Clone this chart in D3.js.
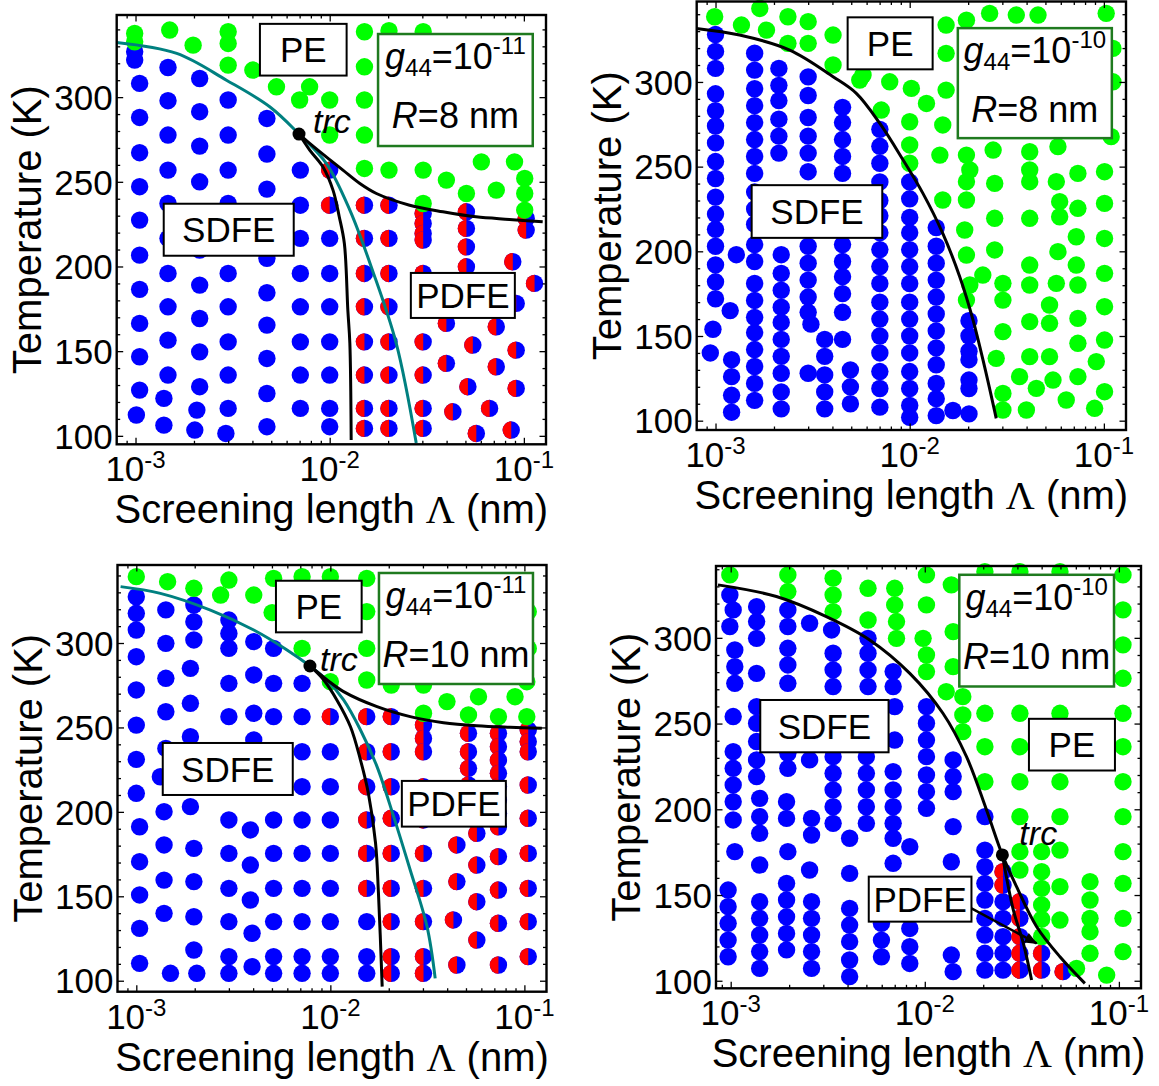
<!DOCTYPE html>
<html>
<head>
<meta charset="utf-8">
<script src="https://cdn.jsdelivr.net/npm/d3@7"></script>
<style>
  body { margin: 0; background: #fff; }
  svg { display: block; }
</style>
</head>
<body>
<svg id="fig" width="1159" height="1086"></svg>
<script>
// ---------- Phase-diagram data: screening length Λ (nm) vs temperature T (K) ----------
// Dots are grouped as [Λ, [T, T, ...]] columns.

// Panel 1: g44 = 1e-11, R = 8 nm
const p1Blue = [
  [0.99e-3, [326.8, 321.9]],
  [1.05e-3, [308.1, 288.0, 267.2, 247.1, 227.4, 206.7, 186.5, 166.4, 146.7, 127.0]],
  [1.01e-3, [112.3]],
  [1.47e-3, [317.5, 297.9, 277.6, 256.9, 237.2, 216.6, 195.9, 176.2, 156.5, 135.9]],
  [1.40e-3, [122.1, 106.3]],
  [2.14e-3, [311.0, 291.4, 271.1, 250.0, 229.4, 209.7, 189.0, 169.3, 149.6, 129.0]],
  [2.07e-3, [115.2]],
  [2.02e-3, [103.4]],
  [3.0e-3, [298.3, 277.6, 256.9, 237.2, 215.6, 195.9, 176.2, 155.5, 135.9, 116.2]],
  [2.92e-3, [101.4]],
  [4.75e-3, [287.4, 266.4, 245.7, 225.4, 204.8, 184.5, 165.4, 145.7, 125.0, 105.4]],
  [7.06e-3, [256.9, 236.2, 216.6, 195.9, 176.2, 155.5, 135.9, 116.2]],
  [1.0e-2, [216.6, 195.9, 176.2, 155.5, 135.9, 116.2, 105.4]]
];
const p1Green = [
  [0.99e-3, [337.6, 332.7]], [1.50e-3, [339.6]], [1.98e-3, [330.7]],
  [3.0e-3, [338.6, 331.7, 318.9]], [4.02e-3, [316.0]], [5.32e-3, [306.1]],
  [7.88e-3, [306.1]], [7.0e-3, [298.3]], [1.0e-2, [298.3, 277.6]],
  [1.51e-2, [338.6, 317.9, 298.3, 277.6, 257.9]], [2.02e-2, [339.2, 256.9]],
  [3.03e-2, [338.6, 256.9, 237.2]], [3.99e-2, [251.0]], [5.06e-2, [243.1]],
  [6.04e-2, [261.8]], [7.21e-2, [245.1]], [8.95e-2, [261.8]], [0.101, [252.0, 243.1, 233.3]]
];
const p1Half = [
  [1.0e-2, [256.9, 236.2]],
  [1.51e-2, [236.2, 216.6, 195.9, 176.2, 155.5, 135.9, 116.2, 104.4]],
  [2.02e-2, [236.2, 216.6, 195.9, 176.2, 155.5, 135.9, 116.2, 104.4]],
  [3.03e-2, [231.3, 225.4, 219.5, 215.6, 195.9, 176.2, 155.5, 135.9, 116.2, 104.4]],
  [5.06e-2, [232.3, 222.5, 211.6, 199.8]],
  [3.99e-2, [166.4, 142.8]], [5.46e-2, [153.6]], [5.15e-2, [129.0]], [4.31e-2, [114.2]],
  [5.69e-2, [101.4]], [7.21e-2, [164.4, 140.8]], [6.66e-2, [116.2]], [8.77e-2, [202.8]],
  [9.13e-2, [178.2, 150.6, 128.0]], [8.61e-2, [103.4]], [0.1135, [190.0]], [0.1028, [228.4, 221.5]]
];
const p1Teal = [[8.0e-4, 332.3], [1.63e-3, 325.8], [2.94e-3, 310.0], [4.91e-3, 294.3], [6.95e-3, 278.2],
  [9.6e-3, 260.9], [1.27e-2, 233.3], [1.66e-2, 197.8], [2.2e-2, 154.7], [2.79e-2, 95.7]];
const p1LineA = [[6.95e-3, 278.2], [7.89e-3, 268.7], [9.22e-3, 258.9], [1.04e-2, 245.1], [1.12e-2, 229.4],
  [1.19e-2, 213.6], [1.24e-2, 174.2], [1.27e-2, 154.6], [1.29e-2, 97.5]];
const p1LineB = [[6.95e-3, 278.2], [7.89e-3, 272.7], [9.6e-3, 264.7], [1.17e-2, 256.9], [1.43e-2, 249.0],
  [1.74e-2, 243.1], [2.58e-2, 236.2], [3.83e-2, 232.3], [5.67e-2, 229.3], [8.43e-2, 227.8], [0.125, 226.4]];
const p1Trc = [6.95e-3, 278.2];

// Panel 2: g44 = 1e-10, R = 8 nm
const p2Blue = [
  [1.0e-3, [328, 318, 308, 293, 283, 274, 264, 253, 243, 232, 222, 213, 203, 192, 182, 172]],
  [0.97e-3, [154]], [0.94e-3, [140]],
  [1.28e-3, [198]], [1.19e-3, [165]], [1.21e-3, [136, 126, 115, 105]],
  [1.59e-3, [317, 307, 296, 286, 276, 266, 256, 246, 235, 225, 216, 204, 194, 181, 171, 161, 152, 142, 132, 122, 112]],
  [2.12e-3, [308, 298, 289, 278, 268, 258]],
  [2.18e-3, [198, 187, 177, 167, 158, 148, 138, 128, 117, 107]],
  [3.0e-3, [303, 292, 279, 268, 258, 247, 203, 193, 183, 173, 164, 128]],
  [3.1e-3, [157]],
  [3.65e-3, [148, 138, 127, 117, 107]],
  [4.51e-3, [285, 276, 266, 256, 246, 204, 194, 185, 175, 164, 148]],
  [4.95e-3, [130, 120, 110]],
  [7.02e-3, [272, 262, 252, 241, 230, 221, 211, 201, 191, 181, 170, 160, 150, 140, 129, 119, 108]],
  [1.0e-2, [241, 231, 220, 211, 201, 191, 181, 170, 160, 150, 140, 129, 119, 109, 102]],
  [1.37e-2, [214, 203, 193, 183, 173, 163, 153, 143, 133, 122, 113, 103]],
  [1.67e-2, [106]],
  [2.02e-2, [159, 150, 141, 136, 124, 119, 104]]
];
const p2Green = [
  [0.99e-3, [338.5]], [1.36e-3, [333.6]], [1.69e-3, [343.4]], [1.83e-3, [330.6]],
  [2.36e-3, [338.5, 322.8]], [3.0e-3, [335.6, 322.8]], [4.03e-3, [327.7, 310.0]],
  [5.53e-3, [301.1]], [5.75e-3, [304.1]], [7.89e-3, [300.1]], [7.14e-3, [283.4]],
  [1.02e-2, [296.2]], [1.22e-2, [287.3]], [1.54e-2, [295.2, 316.9, 333.6]],
  [1.96e-2, [336.5, 256.8, 241.1, 230.3, 197.8, 171.2]], [2.58e-2, [340.5]], [3.54e-2, [339.5]],
  [4.58e-2, [339.5]], [0.1028, [340.5]], [0.1113, [319.8, 300.1]], [0.109, [267.7]],
  [1.0e-2, [276.5, 262.8, 252.0]], [1.43e-2, [256.8]], [1.48e-2, [274.6, 230.3]],
  [2.04e-2, [248.0, 180.1]], [2.74e-2, [240.1, 219.5, 200.8]], [1.92e-2, [212.6]],
  [2.38e-2, [186.0]], [3.02e-2, [181.1, 171.2, 152.6, 116.1, 106.3]],
  [4.15e-2, [258.8, 248.0, 241.1, 219.5, 191.9, 180.1, 158.5, 137.8]],
  [5.8e-2, [261.8, 199.8]], [5.69e-2, [241.1, 181.1]], [5.92e-2, [229.3, 220.4]],
  [7.35e-2, [246.0, 225.4, 180.1, 160.4, 145.7, 126.0]], [0.1008, [247.0, 228.3, 207.6, 187.0, 167.3, 147.6, 117.1]],
  [7.21e-2, [208.6, 191.9]], [5.25e-2, [168.3, 157.5, 137.8]], [2.79e-2, [136.8]],
  [9.14e-2, [134.9]], [3.68e-2, [126.0]], [4.49e-2, [119.1]], [5.47e-2, [124.0]],
  [6.4e-2, [112.2]], [8.96e-2, [107.3]], [3.99e-2, [106.3]], [2.69e-2, [259.8]]
];
const p2Line = [[7.97e-4, 331.6], [1.33e-3, 327.7], [2.41e-3, 318.8], [4.03e-3, 303.1], [5.31e-3, 293.3],
  [7.02e-3, 275.5], [9.25e-3, 253.9], [1.17e-2, 234.2], [1.48e-2, 210.6], [1.81e-2, 185.0],
  [2.12e-2, 159.4], [2.43e-2, 131.9], [2.79e-2, 101.4]];

// Panel 3: g44 = 1e-11, R = 10 nm
const p3Blue = [
  [1.0e-3, [327.4, 317.6, 307.7, 291.9, 272.2, 251.4, 231.1, 211.0]],
  [1.04e-3, [191.2, 170.5, 150.8, 131.0, 110.3]],
  [1.42e-3, [319.6, 299.8, 279.1, 259.3, 237.6]],
  [1.33e-3, [220.8]],
  [1.39e-3, [200.1, 180.4, 159.6, 139.9]],
  [1.50e-3, [104.4]],
  [1.98e-3, [322.5, 312.6, 301.8, 178.4, 158.7, 137.9, 118.2]],
  [1.9e-3, [285.0, 264.3, 244.5, 203.1]],
  [2.05e-3, [104.4]],
  [3.0e-3, [313.6, 305.7, 296.9, 276.1, 256.4, 195.2, 175.4, 154.7, 135.0, 114.3, 104.4]],
  [4.03e-3, [300.8, 281.1, 258.4, 242.6]],
  [3.87e-3, [189.3, 168.5, 147.8]],
  [3.95e-3, [128.1, 108.3]],
  [5.1e-3, [296.8, 276.1, 256.4, 195.2, 175.4, 154.7, 135.0, 114.3, 104.4]],
  [7.15e-3, [276.1, 256.4, 235.6, 214.9, 195.2, 175.4, 154.7, 135.0, 114.3, 104.4]],
  [1.0e-2, [235.6, 214.9, 195.2, 175.4, 154.7, 135.0, 114.3, 104.4]],
  [1.54e-2, [135.0, 114.3, 104.4]]
];
const p3Green = [
  [1.0e-3, [339.3]], [1.45e-3, [336.3]], [1.98e-3, [332.4]], [3.0e-3, [337.3]], [2.72e-3, [328.4]],
  [4.03e-3, [328.4]], [5.1e-3, [338.3]], [5.01e-3, [318.0]], [7.15e-3, [339.3, 296.8]],
  [1.0e-2, [339.3, 277.1]], [1.54e-2, [338.3, 318.6, 296.8, 278.1]], [2.06e-2, [275.1]],
  [3.02e-2, [275.1, 258.4]], [3.99e-2, [265.3]], [5.8e-2, [268.2]], [8.95e-2, [268.2]],
  [5.15e-2, [257.4]], [7.35e-2, [256.4]], [0.1029, [256.4, 277.1]], [0.1047, [318.6, 296.8]]
];
const p3Half = [
  [1.0e-2, [256.4]],
  [1.54e-2, [256.4, 235.6, 214.9, 195.2, 175.4, 154.7]],
  [2.06e-2, [256.4, 235.6, 214.9, 196.2, 175.4, 154.7, 135.0, 114.3, 104.4]],
  [3.02e-2, [251.4, 243.5, 235.6, 214.9, 195.2, 175.4, 154.7, 135.0, 114.3, 104.4]],
  [5.15e-2, [246.5, 235.6, 225.8, 215.9]],
  [5.69e-2, [187.3, 168.5, 146.8, 124.1]],
  [4.49e-2, [180.4, 158.7, 109.3]],
  [4.31e-2, [136.0]],
  [7.35e-2, [246.5, 238.6, 230.7, 222.8, 215.0, 207.0, 199.1, 191.2, 173.5, 153.7, 134.0, 109.3]],
  [0.1047, [248.5, 241.6, 235.6, 215.9, 196.2, 175.4, 154.7, 135.0, 114.3]]
];
const p3Teal = [[8.3e-4, 333.4], [1.33e-3, 329.4], [2.41e-3, 319.5], [4.03e-3, 307.7], [5.98e-3, 295.9],
  [7.85e-3, 286.4], [9.6e-3, 278.1], [1.17e-2, 266.3], [1.43e-2, 248.5], [1.74e-2, 226.8],
  [2.12e-2, 197.2], [2.58e-2, 165.6], [3.15e-2, 132.0], [3.47e-2, 101.4]];
const p3LineA = [[7.85e-3, 286.4], [9.25e-3, 278.1], [1.08e-2, 266.3], [1.27e-2, 250.4], [1.43e-2, 230.7],
  [1.57e-2, 211.0], [1.71e-2, 181.4], [1.77e-2, 151.7], [1.85e-2, 96.5]];
const p3LineB = [[7.85e-3, 286.4], [9.62e-3, 278.1], [1.17e-2, 271.2], [1.74e-2, 262.3], [2.58e-2, 256.4],
  [3.83e-2, 252.8], [5.69e-2, 251.0], [8.43e-2, 250.1], [0.123, 249.5]];
const p3Trc = [7.85e-3, 286.4];

// Panel 4: g44 = 1e-10, R = 10 nm
const p4Blue = [
  [0.99e-3, [325.0, 306.6]],
  [1.03e-3, [316.3, 254.1, 233.6, 223.9, 214.2, 204.4, 193.8]],
  [1.05e-3, [292.9, 283.2, 273.5, 175.3]],
  [0.97e-3, [152.9, 143.2, 133.5, 123.7, 114.0]],
  [1.36e-3, [318.2, 309.5, 299.7, 279.3, 259.9, 250.2, 239.5, 228.8, 219.1]],
  [1.41e-3, [206.4, 195.7, 186.0, 167.5, 146.1, 136.4, 126.7, 117.0, 107.2]],
  [1.97e-3, [316.3, 306.6, 293.9, 284.2, 273.5, 232.7, 223.9, 175.3]],
  [1.94e-3, [204.4, 194.7, 156.8, 147.1, 137.3, 127.6, 118.0]],
  [2.55e-3, [308.5, 228.8, 164.6]],
  [2.61e-3, [194.7, 185.0, 146.1, 136.4, 126.7, 117.0, 107.2]],
  [3.31e-3, [304.6]],
  [3.37e-3, [291.0, 281.3, 271.6, 230.7, 221.0, 211.3, 201.5, 191.8]],
  [4.1e-3, [183.1, 162.6, 142.2, 132.5, 122.8, 112.1, 102.4]],
  [5.1e-3, [299.7, 291.0, 281.3, 271.6]],
  [5.0e-3, [230.7, 221.0, 211.3, 201.5, 191.8]],
  [5.98e-3, [133.5, 123.7, 114.0]],
  [6.87e-3, [280.3, 271.6, 222.0, 211.3, 201.5, 191.8, 183.1, 168.5]],
  [7.0e-3, [259.9, 240.4]],
  [8.37e-3, [178.2, 130.5, 119.9, 110.1]],
  [1.02e-2, [259.9, 250.2, 240.4, 230.7, 220.0, 210.3, 200.6]],
  [1.40e-2, [228.8, 219.1, 210.3, 189.9, 105.3]],
  [1.37e-2, [169.4, 115.0]],
  [2.04e-2, [195.7, 176.2, 166.5, 156.8, 147.1, 136.4, 126.7, 116.0, 106.2]],
  [2.53e-2, [146.1, 136.4, 125.7, 116.0, 106.2]]
];
const p4Green = [
  [0.99e-3, [336.7]], [1.97e-3, [336.7, 327.0]], [3.37e-3, [334.8, 325.0, 315.3]],
  [5.1e-3, [328.9, 310.4]], [7.0e-3, [328.9, 319.2]], [7.15e-3, [309.5, 299.7]], [9.8e-3, [299.7]],
  [1.02e-2, [336.7, 319.2, 290.0, 280.3]], [1.37e-2, [330.9]], [1.40e-2, [303.6, 283.2]],
  [1.29e-2, [268.6]], [1.57e-2, [265.7, 255.0, 245.3]],
  [2.04e-2, [338.6, 256.0, 236.5, 216.1]],
  [3.09e-2, [338.6, 256.0, 236.5, 216.1, 195.7, 175.3, 164.6]],
  [4.97e-2, [338.6, 256.0, 216.1, 195.7, 176.2, 154.9, 135.4]],
  [4.0e-2, [175.3, 163.6, 153.9, 144.2, 135.9, 125.8]],
  [7.1e-2, [157.8, 147.1, 136.4, 128.6, 116.0]],
  [0.105, [336.7, 316.3, 295.9, 276.4, 256.0, 236.5, 216.1, 195.7, 175.3, 156.8, 136.4, 117.0]],
  [6.05e-2, [107.2]], [8.65e-2, [103.3]]
];
const p4Half = [
  [2.53e-2, [163.6, 155.8]],
  [3.09e-2, [146.1, 136.4, 125.7, 116.0, 106.2]],
  [4.0e-2, [116.0, 106.2]],
  [5.16e-2, [105.3]]
];
const p4LineA = [[8.6e-4, 330.9], [1.72e-3, 324.1], [3.11e-3, 312.4], [5.2e-3, 298.8], [8.37e-3, 279.3],
  [1.24e-2, 256.0], [1.64e-2, 230.7], [2.08e-2, 199.6], [2.51e-2, 173.4], [2.97e-2, 154.9],
  [3.77e-2, 131.5], [4.97e-2, 114.0], [6.68e-2, 98.5]];
const p4LineB = [[2.51e-2, 173.4], [2.86e-2, 141.2], [3.22e-2, 121.8], [3.55e-2, 100.4]];
const p4Trc = [2.51e-2, 173.4];
const p4Arrow = [[1.74e-2, 142.2], [3.77e-2, 121.8]];

// Axis ticks
const xMajor = [1e-3, 1e-2, 1e-1];
const xMajorExp = ['-3', '-2', '-1'];
const yMajor = [100, 150, 200, 250, 300];

// ---------- Styles ----------
const SANS = '"Liberation Sans", Arial, Helvetica, sans-serif';
const BLUE = '#0000ff', GREEN = '#00ff00', RED = '#ff0000', TEAL = '#008080', BOXGREEN = '#1f7a1f';
const DOT_R = 8.7;

// ---------- Panel layout ----------
const panels = [
  { l: 116.7, r: 546, t: 15, b: 444.3, xd: [8e-4, 0.13], yd: [95, 348.5],
    blue: p1Blue, green: p1Green, half: p1Half,
    curves: [{ pts: p1Teal, color: TEAL }, { pts: p1LineA, color: '#000' }, { pts: p1LineB, color: '#000' }],
    trc: p1Trc, trcOff: [14, -1], exp: '-11', radius: '8',
    info: { at: [4.44e-2, 304.2], w: 154.7, h: 112 },
    boxes: [
      { text: 'PE', at: [7.31e-3, 328.0], w: 86.7, h: 51.7 },
      { text: 'SDFE', at: [3.02e-3, 221.7], w: 130, h: 52 },
      { text: 'PDFE', at: [4.85e-2, 182.9], w: 104, h: 45 }
    ] },
  { l: 696.7, r: 1126, t: 1.5, b: 430, xd: [8e-4, 0.13], yd: [94.5, 347.5],
    blue: p2Blue, green: p2Green, half: [],
    curves: [{ pts: p2Line, color: '#000' }],
    exp: '-10', radius: '8',
    info: { at: [4.41e-2, 299.3], w: 154, h: 110 },
    boxes: [
      { text: 'PE', at: [7.93e-3, 322.8], w: 85, h: 52 },
      { text: 'SDFE', at: [3.33e-3, 223.5], w: 130.6, h: 52.7 }
    ] },
  { l: 117.5, r: 546.5, t: 565, b: 991.7, xd: [8e-4, 0.13], yd: [93.5, 346.2],
    blue: p3Blue, green: p3Green, half: p3Half,
    curves: [{ pts: p3Teal, color: TEAL }, { pts: p3LineA, color: '#000' }, { pts: p3LineB, color: '#000' }],
    trc: p3Trc, trcOff: [10, 5], exp: '-11', radius: '10',
    info: { at: [4.44e-2, 308.6], w: 154, h: 111 },
    boxes: [
      { text: 'PE', at: [8.72e-3, 321.6], w: 85.7, h: 51.6 },
      { text: 'SDFE', at: [2.96e-3, 225.4], w: 130, h: 52 },
      { text: 'PDFE', at: [4.33e-2, 204.8], w: 104, h: 45.7 }
    ] },
  { l: 716, r: 1141, t: 566, b: 988.3, xd: [8.4e-4, 0.13], yd: [95.6, 341.9],
    blue: p4Blue, green: p4Green, half: p4Half,
    curves: [{ pts: p4LineA, color: '#000' }, { pts: p4LineB, color: '#000' }],
    trc: p4Trc, trcOff: [17, -10], exp: '-10', radius: '10', arrow: p4Arrow,
    info: { at: [3.77e-2, 304.2], w: 154.7, h: 111.7 },
    boxes: [
      { text: 'SDFE', at: [3.04e-3, 248.5], w: 128.3, h: 52.3 },
      { text: 'PE', at: [5.73e-2, 237.7], w: 86, h: 51.7 },
      { text: 'PDFE', at: [9.46e-3, 147.6], w: 102.7, h: 45 }
    ] }
];

const svg = d3.select('#fig');
svg.append('rect').attr('width', 1159).attr('height', 1086).attr('fill', '#fff');

const defs = svg.append('defs');
defs.append('marker').attr('id', 'arrowHead')
  .attr('viewBox', '0 0 12 10').attr('refX', 11).attr('refY', 5)
  .attr('markerUnits', 'userSpaceOnUse').attr('markerWidth', 13).attr('markerHeight', 11)
  .attr('orient', 'auto')
  .append('path').attr('d', 'M0,0L12,5L0,10Z').attr('fill', '#000');

const flat = groups => groups.flatMap(([lam, ts]) => ts.map(t => [lam, t]));

function drawPanel(p) {
  const x = d3.scaleLog().domain(p.xd).range([p.l, p.r]);
  const y = d3.scaleLinear().domain(p.yd).range([p.b, p.t]);
  const g = svg.append('g');

  // phase markers: single-domain FE (blue), poly-domain FE (red/blue), paraelectric (green)
  g.append('g').selectAll('circle').data(flat(p.blue)).join('circle')
    .attr('cx', d => x(d[0])).attr('cy', d => y(d[1])).attr('r', DOT_R).attr('fill', BLUE);

  const hs = g.append('g').selectAll('g').data(flat(p.half)).join('g')
    .attr('transform', d => `translate(${x(d[0])},${y(d[1])})`);
  hs.append('circle').attr('r', DOT_R).attr('fill', BLUE);
  hs.append('path').attr('d', `M0,${-DOT_R}A${DOT_R},${DOT_R} 0 0 0 0,${DOT_R}Z`).attr('fill', RED);

  g.append('g').selectAll('circle').data(flat(p.green)).join('circle')
    .attr('cx', d => x(d[0])).attr('cy', d => y(d[1])).attr('r', DOT_R).attr('fill', GREEN);

  // phase boundaries
  const line = d3.line().x(d => x(d[0])).y(d => y(d[1])).curve(d3.curveCatmullRom.alpha(0.5));
  p.curves.forEach(c => {
    g.append('path').attr('d', line(c.pts)).attr('fill', 'none')
      .attr('stroke', c.color).attr('stroke-width', 3).attr('stroke-linejoin', 'round');
  });

  // axes: inward ticks on all four sides
  const minor = [];
  [-4, -3, -2, -1].forEach(e => {
    for (let k = 2; k <= 9; k++) {
      const v = k * Math.pow(10, e);
      if (v > p.xd[0] && v < p.xd[1]) minor.push(v);
    }
  });
  const yMinor = d3.range(100, 350, 10).filter(v => v % 50 !== 0 && v > p.yd[0] && v < p.yd[1]);
  const axes = [
    [d3.axisBottom(x).tickValues(minor).tickSize(-3.5), `translate(0,${p.b})`],
    [d3.axisBottom(x).tickValues(xMajor).tickSize(-6.5), `translate(0,${p.b})`],
    [d3.axisTop(x).tickValues(minor).tickSize(-3.5), `translate(0,${p.t})`],
    [d3.axisTop(x).tickValues(xMajor).tickSize(-6.5), `translate(0,${p.t})`],
    [d3.axisLeft(y).tickValues(yMinor).tickSize(-3.5), `translate(${p.l},0)`],
    [d3.axisRight(y).tickValues(yMinor).tickSize(-3.5), `translate(${p.r},0)`],
    [d3.axisRight(y).tickValues(yMajor).tickSize(-6.5), `translate(${p.r},0)`]
  ];
  axes.forEach(([ax, tr]) => {
    const a = g.append('g').attr('transform', tr).call(ax.tickFormat(''));
    a.select('.domain').remove();
    a.selectAll('line').attr('stroke', '#000').attr('stroke-width', 1.3);
  });
  const yl = g.append('g').attr('transform', `translate(${p.l},0)`)
    .call(d3.axisLeft(y).tickValues(yMajor).tickSize(-6.5).tickPadding(4).tickFormat(d3.format('d')));
  yl.select('.domain').remove();
  yl.selectAll('line').attr('stroke', '#000').attr('stroke-width', 1.3);
  yl.attr('font-size', 35).attr('font-family', SANS);
  yl.selectAll('text').attr('fill', '#000').attr('dy', '0.35em');

  // x tick labels 10^n
  xMajor.forEach((v, i) => {
    const t = g.append('text').attr('x', x(v)).attr('y', p.b + 37)
      .attr('text-anchor', 'middle').attr('font-family', SANS).attr('font-size', 35);
    t.append('tspan').text('10');
    t.append('tspan').attr('dy', -13).attr('font-size', 24).text(xMajorExp[i]);
  });

  // frame
  g.append('rect').attr('x', p.l).attr('y', p.t).attr('width', p.r - p.l).attr('height', p.b - p.t)
    .attr('fill', 'none').attr('stroke', '#000').attr('stroke-width', 2.4);

  // axis titles
  const xt = g.append('text').attr('x', (p.l + p.r) / 2).attr('y', p.b + 79)
    .attr('text-anchor', 'middle').attr('font-family', SANS).attr('font-size', 40);
  xt.append('tspan').text('Screening length ');
  xt.append('tspan').attr('font-family', '"Liberation Serif", "Times New Roman", serif').text('Λ');
  xt.append('tspan').text(' (nm)');
  g.append('text').attr('transform', `translate(${p.l - 76},${(p.t + p.b) / 2}) rotate(-90)`)
    .attr('text-anchor', 'middle').attr('font-family', SANS).attr('font-size', 40)
    .text('Temperature (K)');

  // arrow pointing into the narrow poly-domain pocket
  if (p.arrow) {
    g.append('line')
      .attr('x1', x(p.arrow[0][0])).attr('y1', y(p.arrow[0][1]))
      .attr('x2', x(p.arrow[1][0])).attr('y2', y(p.arrow[1][1]))
      .attr('stroke', '#000').attr('stroke-width', 2.5).attr('marker-end', 'url(#arrowHead)');
  }

  // phase labels
  p.boxes.forEach(b => {
    const cx = x(b.at[0]), cy = y(b.at[1]);
    g.append('rect').attr('x', cx - b.w / 2).attr('y', cy - b.h / 2).attr('width', b.w).attr('height', b.h)
      .attr('fill', '#fff').attr('stroke', '#000').attr('stroke-width', 2);
    g.append('text').attr('x', cx).attr('y', cy).attr('dy', '0.36em').attr('text-anchor', 'middle')
      .attr('font-family', SANS).attr('font-size', 35).text(b.text);
  });

  // parameter box
  {
    const b = p.info, cx = x(b.at[0]), cy = y(b.at[1]), top = cy - b.h / 2;
    g.append('rect').attr('x', cx - b.w / 2).attr('y', top).attr('width', b.w).attr('height', b.h)
      .attr('fill', '#fff').attr('stroke', BOXGREEN).attr('stroke-width', 2.5);
    const t1 = g.append('text').attr('x', cx).attr('y', top + 35).attr('text-anchor', 'middle')
      .attr('font-family', SANS).attr('font-size', 36);
    t1.append('tspan').attr('font-style', 'italic').text('g');
    t1.append('tspan').attr('font-size', 24).attr('dy', 7).text('44');
    t1.append('tspan').attr('dy', -7).text('=10');
    t1.append('tspan').attr('font-size', 24).attr('dy', -15).text(p.exp);
    const t2 = g.append('text').attr('x', cx).attr('y', top + 94).attr('text-anchor', 'middle')
      .attr('font-family', SANS).attr('font-size', 36);
    t2.append('tspan').attr('font-style', 'italic').text('R');
    t2.append('tspan').text('=' + p.radius + ' nm');
  }

  // tricritical point
  if (p.trc) {
    const tx = x(p.trc[0]), ty = y(p.trc[1]);
    g.append('circle').attr('cx', tx).attr('cy', ty).attr('r', 6.5).attr('fill', '#000');
    g.append('text').attr('x', tx + p.trcOff[0]).attr('y', ty + p.trcOff[1])
      .attr('font-family', SANS).attr('font-size', 34).attr('font-style', 'italic').text('trc');
  }
}

panels.forEach(drawPanel);
</script>
</body>
</html>
